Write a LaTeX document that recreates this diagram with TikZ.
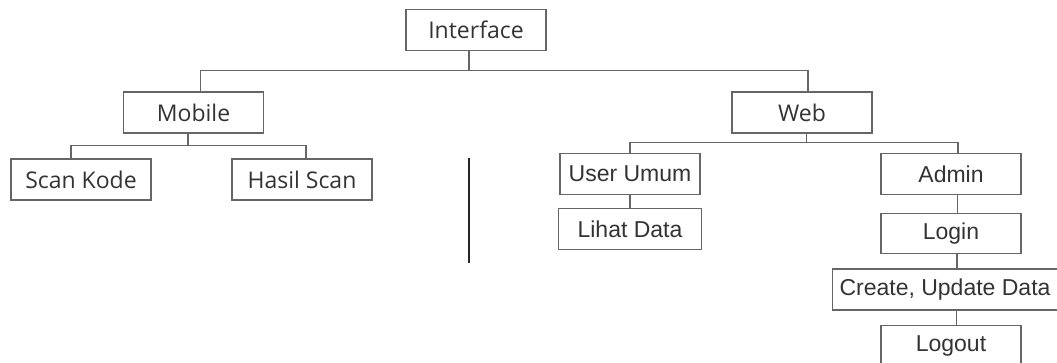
\documentclass[tikz,border=0pt]{standalone}
\usepackage{fontspec}
\newfontfamily\opensans{Open Sans}
\newfontfamily\arialish{Liberation Sans}
\usepackage{tikz}
\usetikzlibrary{positioning}

\begin{document}
\begin{tikzpicture}[
    x=1pt, y=-1pt,
    node distance=15pt,
    box/.style={rectangle, draw=black!60, line width=1.2pt, minimum width=140pt, minimum height=41pt, inner sep=0pt, align=center, text=black!80},
    topbox/.style={box, font=\opensans\fontsize{23}{27}\selectfont},
    webbox/.style={box, font=\arialish\fontsize{23}{27}\selectfont},
    link/.style={draw=black!60, line width=1.2pt},
]
    \useasboundingbox (0,0) rectangle (1057,362);

    % Root
    \node[topbox] (interface) at (476,30) {Interface};

    % Mobile side
    \node[topbox] (mobile) at (193.5,112.5) {Mobile};
    \node[topbox] (scan) at (81,179.5) {Scan Kode};
    \node[topbox] (hasil) at (302,179.5) {Hasil Scan};

    % Web side
    \node[topbox] (web) at (802,112.5) {Web};
    \node[webbox] (user) at (630,174) {User Umum};
    \node[webbox, minimum width=143pt, below=13pt of user] (lihat) {Lihat Data};
    \node[webbox] (admin) at (951,174) {Admin};
    \node[webbox, minimum height=40pt, below=17.5pt of admin] (login) {Login};
    \node[webbox, minimum width=225pt, below=14.5pt of login, xshift=-6pt] (create) {Create, Update Data};
    \node[webbox, below=14pt of create, xshift=6pt] (logout) {Logout};

    % Stray bar
    \coordinate (barTop) at (469,158);
    \coordinate (barBot) at (469,263);
    \draw[line width=2.6pt, black!85] (barTop) -- (barBot);

    % Connectors
    \draw[link] ([xshift=-7]interface.south) -- ++(0,19.5) -| ([xshift=7]mobile.north);
    \draw[link] ([xshift=-7]interface.south) -- ++(0,19.5) -| ([xshift=6]web.north);
    \draw[link] ([xshift=-5.5]mobile.south) -- ++(0,12) -| ([xshift=-10]scan.north);
    \draw[link] ([xshift=-5.5]mobile.south) -- ++(0,12) -| ([xshift=4]hasil.north);
    \draw[link] ([xshift=4.5]web.south) -- ++(0,9) -| (user.north);
    \draw[link] ([xshift=4.5]web.south) -- ++(0,9) -| ([xshift=7]admin.north);
    \draw[link] (user) -- (lihat);
    \draw[link] ([xshift=6.5]admin.south) -- ([xshift=6.5]login.north);
    \draw[link] ([xshift=6]login.south) -- ([xshift=12]create.north);
    \draw[link] ([xshift=11.5]create.south) -- ([xshift=5.5]logout.north);
\end{tikzpicture}
\end{document}
